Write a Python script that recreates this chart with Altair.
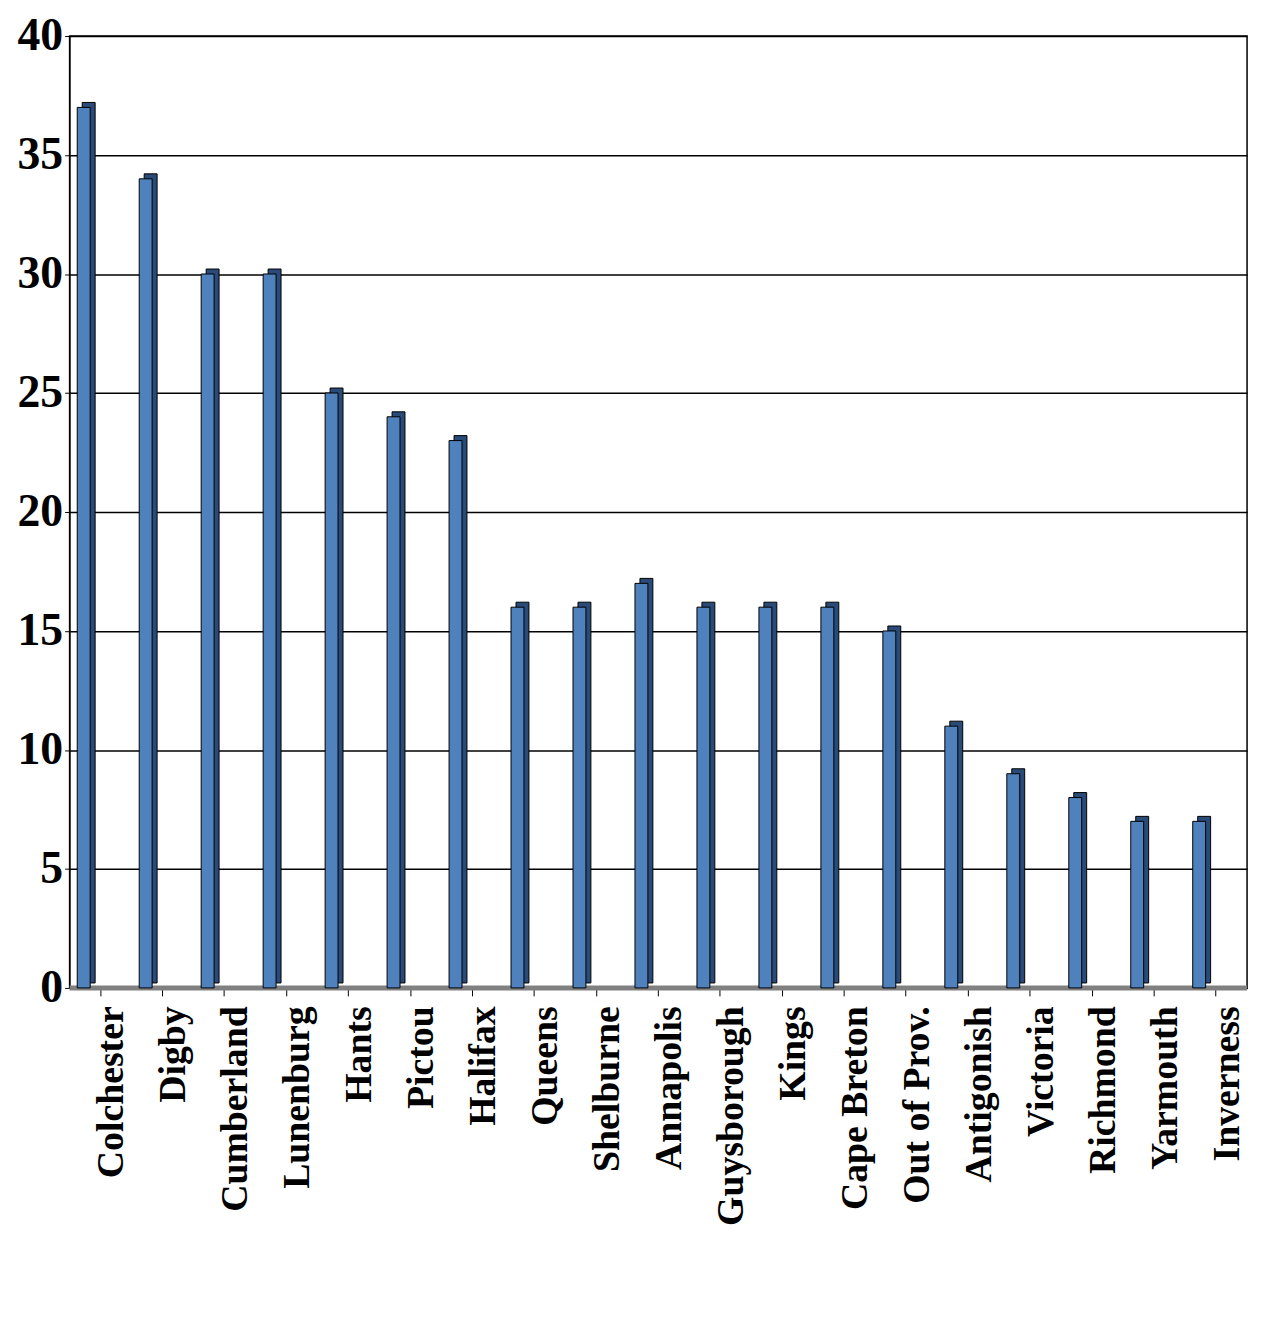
import altair as alt
import pandas as pd

places = ["Colchester", "Digby", "Cumberland", "Lunenburg", "Hants", "Pictou", "Halifax",
          "Queens", "Shelburne", "Annapolis", "Guysborough", "Kings", "Cape Breton",
          "Out of Prov.", "Antigonish", "Victoria", "Richmond", "Yarmouth", "Inverness"]
counts = [37, 34, 30, 30, 25, 24, 23, 16, 16, 17, 16, 16, 16, 15, 11, 9, 8, 7, 7]

df = pd.DataFrame({"place": places, "count": counts})

x = alt.X("place:N", sort=places, title=None,
          axis=alt.Axis(labelAngle=-90, labelAlign="right", labelBaseline="middle",
                        labelFont="Liberation Serif", labelFontWeight="bold", labelFontSize=38,
                        labelColor="black", labelOffset=12, labelPadding=10,
                        tickColor="black", tickSize=8, domainColor="black", labelLimit=400))
y = alt.Y("count:Q", title=None, scale=alt.Scale(domain=[0, 40]),
          axis=alt.Axis(values=list(range(0, 41, 5)), labelFont="Liberation Serif",
                        labelFontWeight="bold", labelFontSize=46, labelColor="black",
                        tickColor="black", tickSize=5, domainColor="black",
                        gridColor="black", gridWidth=1.5, labelPadding=2))

base = alt.Chart(df)
floor = alt.Chart(pd.DataFrame({"v": [0]})).mark_rule(color="#808080", strokeWidth=5).encode(
    y=alt.Y("v:Q", scale=alt.Scale(domain=[0, 40])))
side = base.mark_bar(width=13, color="#2a4a78", stroke="black", strokeWidth=1,
                     xOffset=-12, yOffset=-5).encode(x=x, y=y)
front = base.mark_bar(width=13, color="#4f81bd", stroke="black", strokeWidth=1,
                      xOffset=-17).encode(x=x, y=y)

chart = alt.layer(floor, side, front).properties(
    width=1185, height=958,
    autosize=alt.AutoSizeParams(type="none"),
    padding={"left": 62, "top": 24, "right": 10, "bottom": 330},
).configure_view(stroke="black", strokeWidth=1.5)
chart.save("out.html", embed_options={"renderer": "svg", "actions": False})
